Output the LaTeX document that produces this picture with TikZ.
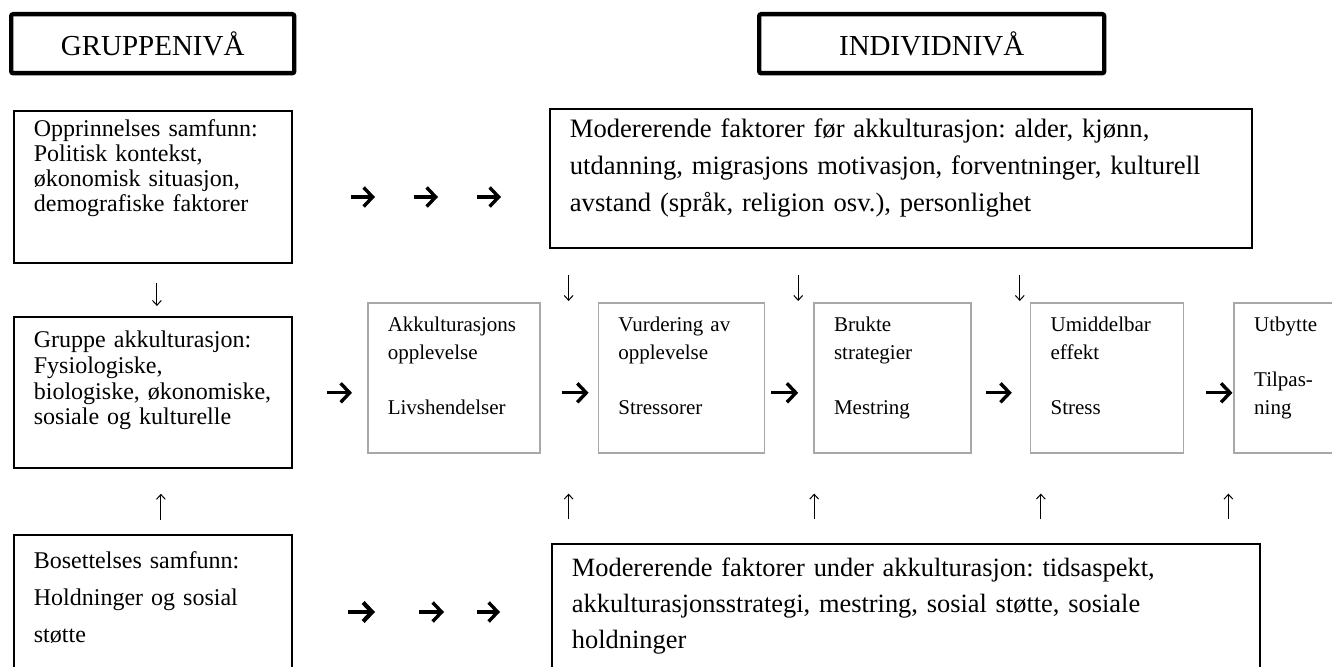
\documentclass[tikz,border=0pt]{standalone}
\usepackage{fontspec}
\setmainfont{Liberation Serif}
\usetikzlibrary{positioning,arrows.meta}
\definecolor{stagegray}{RGB}{168,168,168}
\frenchspacing

\begin{document}
\begin{tikzpicture}[x=0.5pt, y=-0.5pt,
  tierbox/.style={rectangle, draw=black, line width=2.2pt, rounded corners=1pt,
                  font=\fontsize{14.5}{17}\selectfont, minimum width=#1, minimum height=29.5pt,
                  inner sep=0pt, anchor=north west},
  sidebox/.style={rectangle, draw=black, line width=0.9pt, align=left, text width=119pt,
                  inner xsep=10pt, inner ysep=0pt, anchor=north west},
  modbox/.style={rectangle, draw=black, line width=0.9pt, align=left, text width=#1,
                 inner xsep=10pt, inner ysep=0pt, anchor=north west},
  stagebox/.style={rectangle, draw=stagegray, line width=0.8pt, align=left, text width=#1,
                   inner xsep=10pt, inner ysep=0pt, text height=14.5pt, text depth=60.5pt,
                   font=\fontsize{10.5}{13.75}\selectfont},
  fat/.style={line width=1.7pt, -{Straight Barb[length=4.5pt,width=9.5pt]}},
  slim/.style={line width=0.5pt, -{Straight Barb[length=2.4pt,width=4.4pt]}},
]
\useasboundingbox (0,0) rectangle (1332,667);

% headers
\node[tierbox=141.5pt] (grpniv) at (9,12)   {GRUPPENIVÅ};
\node[tierbox=172.5pt] (indniv) at (757,12) {INDIVIDNIVÅ};

% group level column
\node[sidebox, font=\fontsize{12}{12.5}\selectfont, text height=13pt, text depth=63pt]
  (orig) at (13,110) {Opprinnelses samfunn:\\ Politisk kontekst,\\ økonomisk situasjon,\\ demografiske faktorer};
\node[sidebox, font=\fontsize{12}{12.8}\selectfont, text height=15.5pt, text depth=60pt]
  (grp) at (13,316) {Gruppe akkulturasjon:\\ Fysiologiske,\\ biologiske, økonomiske,\\ sosiale og kulturelle};
\node[sidebox, font=\fontsize{12}{18.5}\selectfont, text height=17pt, text depth=65pt]
  (host) at (13,534) {Bosettelses samfunn:\\ Holdninger og sosial\\ støtte};

% moderating factors
\node[modbox=331pt, font=\fontsize{13.3}{18.5}\selectfont, text height=14.5pt, text depth=55pt]
  (modpre) at (549,108) {Modererende faktorer før akkulturasjon: alder, kjønn,\\
  utdanning, migrasjons motivasjon, forventninger, kulturell\\ avstand (språk, religion osv.), personlighet};
\node[modbox=334pt, font=\fontsize{13.2}{18}\selectfont, text height=16.5pt, text depth=62pt]
  (modacc) at (551,543) {Modererende faktorer under akkulturasjon: tidsaspekt,\\
  akkulturasjonsstrategi, mestring, sosial støtte, sosiale\\ holdninger};

% individual stages
\node[stagebox=66pt, anchor=north west] (A) at (367,302) {Akkulturasjons\\ opplevelse\\[13.75pt] Livshendelser};
\node[stagebox=63pt, right=28.5pt of A.north east, anchor=north west] (B) {Vurdering av\\ opplevelse\\[13.75pt] Stressorer};
\node[stagebox=58.5pt, right=24pt of B.north east, anchor=north west] (C) {Brukte\\ strategier\\[13.75pt] Mestring};
\node[stagebox=56.5pt, right=29pt of C.north east, anchor=north west] (D) {Umiddelbar\\ effekt\\[13.75pt] Stress};
\node[stagebox=80pt, right=24.5pt of D.north east, anchor=north west] (E) {Utbytte\\[13.75pt] Tilpas-\\ ning};

% fat arrows
\coordinate (r1) at (0,197);
\foreach \s/\e in {29pt/87pt, 60.5pt/55.5pt, 92pt/24pt}
  \draw[fat, shorten <=\s, shorten >=\e] (r1 -| orig.east) -- (r1 -| modpre.west);
\coordinate (r3) at (0,612);
\foreach \s/\e/\w in {27.5pt/88pt/2.1pt, 63pt/53.5pt/1.7pt, 92pt/25.5pt/1.7pt}
  \draw[fat, line width=\w, shorten <=\s, shorten >=\e] (r3 -| host.east) -- (r3 -| modacc.west);
\coordinate (inA) at ([yshift=-7.5pt]A.west);
\draw[fat, shorten <=17pt, shorten >=7.5pt] (inA -| grp.east) -- (inA);
\foreach \a/\b/\s/\e in {A/B/10.5pt/4.5pt, B/C/3pt/7.5pt, C/D/7pt/9pt, D/E/11pt/0.5pt}
  \draw[fat, shorten <=\s, shorten >=\e] ([yshift=-7.5pt]\a.east) -- ([yshift=-7.5pt]\b.west);

% slim arrows
\draw[slim, shorten <=9.5pt, shorten >=5pt] ([xshift=2pt]orig.south) -- ([xshift=2pt]orig.south |- grp.north);
\draw[slim, shorten <=7pt, shorten >=12.5pt] ([xshift=4pt]host.north) -- ([xshift=4pt]host.north |- grp.south);
\foreach \b/\dx in {B/-14.5pt, C/-7.5pt, D/-5pt} {
  \coordinate (dn\b) at ([xshift=\dx]\b.north west);
  \draw[slim, shorten <=13pt, shorten >=0.5pt] (dn\b |- modpre.south) -- (dn\b);
}
\foreach \b/\dx in {B/-14.5pt, C/0.5pt, D/5.5pt, E/-2.5pt} {
  \coordinate (up\b) at ([xshift=\dx]\b.south west);
  \draw[slim, shorten <=12pt, shorten >=20pt] (up\b |- modacc.north) -- (up\b);
}

\end{tikzpicture}
\end{document}
